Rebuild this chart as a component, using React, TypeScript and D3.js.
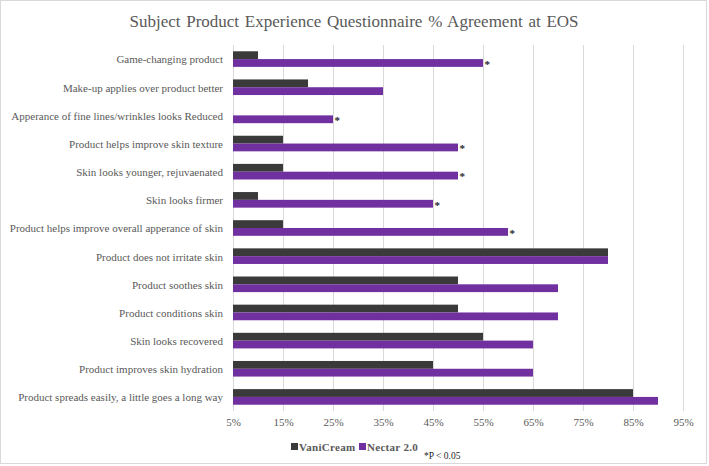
import { useEffect, useRef } from 'react';
import * as d3 from 'd3';

const categories = [
  'Game-changing product',
  'Make-up applies over product better ',
  'Apperance of fine lines/wrinkles looks Reduced',
  'Product helps improve skin texture',
  'Skin looks younger, rejuvaenated ',
  'Skin looks firmer',
  'Product helps improve overall apperance of skin',
  'Product does not irritate skin ',
  'Product soothes skin ',
  'Product conditions skin ',
  'Skin looks recovered',
  'Product improves skin hydration ',
  'Product spreads easily, a little goes a long way',
];

const vaniCream = [10, 20, 5, 15, 15, 10, 15, 80, 50, 50, 55, 45, 85];
const nectar = [55, 35, 25, 50, 50, 45, 60, 80, 70, 70, 65, 65, 90];
// categories where Nectar 2.0 differs significantly
const significant = [true, false, true, true, true, true, true, false, false, false, false, false, false];

const tickValues = [5, 15, 25, 35, 45, 55, 65, 75, 85, 95];

const W = 709;
const H = 466;

export default function App() {
  const svgRef = useRef<SVGSVGElement>(null);

  useEffect(() => {
    if (!svgRef.current) return;
    const svg = d3.select(svgRef.current);
    svg.selectAll('*').remove();

    const font = '"Liberation Serif", "Times New Roman", serif';
    const textColor = '#595959';
    const colors = { vani: '#3a3a3a', nectar: '#7030a0' };

    // chart frame
    svg.append('rect')
      .attr('x', 0.5).attr('y', 0.5)
      .attr('width', W - 3).attr('height', H - 3)
      .attr('fill', '#fff')
      .attr('stroke', '#d9d9d9');

    svg.append('text')
      .attr('x', 354)
      .attr('y', 27)
      .attr('text-anchor', 'middle')
      .style('font-family', font)
      .style('font-size', '17px')
      .style('word-spacing', '1.5px')
      .style('fill', textColor)
      .text('Subject Product Experience Questionnaire % Agreement at EOS');

    const x = d3.scaleLinear().domain([5, 95]).range([233, 683]);
    const y = d3.scaleBand<string>().domain(categories).range([45, 411]);
    const barH = 7.8;

    // vertical gridlines
    svg.append('g')
      .attr('transform', `translate(0,${y.range()[1]})`)
      .call(d3.axisBottom(x).tickValues(tickValues).tickSize(-(y.range()[1] - y.range()[0])).tickFormat(() => ''))
      .call(g => g.select('.domain').remove())
      .selectAll('line')
      .attr('stroke', '#d9d9d9');

    // tick labels
    const xAxis = svg.append('g')
      .attr('transform', `translate(0,${y.range()[1]})`)
      .call(d3.axisBottom(x).tickValues(tickValues).tickSize(0).tickPadding(7).tickFormat(d => `${d}%`));
    xAxis.select('.domain').remove();
    xAxis.selectAll('text')
      .style('font-family', font)
      .style('font-size', '11px')
      .style('fill', textColor);

    // category labels
    const yAxis = svg.append('g')
      .attr('transform', 'translate(233,0)')
      .call(d3.axisLeft(y).tickSize(0).tickPadding(10));
    yAxis.select('.domain').remove();
    yAxis.selectAll('text')
      .attr('dy', '0.4em')
      .style('font-family', font)
      .style('font-size', '11px')
      .style('fill', textColor);

    const rows = categories.map((c, i) => ({ c, v: vaniCream[i], n: nectar[i], sig: significant[i] }));
    const mid = (c: string) => (y(c) as number) + y.bandwidth() / 2;

    svg.append('g').selectAll('rect')
      .data(rows)
      .join('rect')
      .attr('x', x(5))
      .attr('y', d => mid(d.c) - barH)
      .attr('width', d => x(d.v) - x(5))
      .attr('height', barH)
      .attr('fill', colors.vani);

    svg.append('g').selectAll('rect')
      .data(rows)
      .join('rect')
      .attr('x', x(5))
      .attr('y', d => mid(d.c))
      .attr('width', d => x(d.n) - x(5))
      .attr('height', barH)
      .attr('fill', colors.nectar);

    svg.append('g').selectAll('text')
      .data(rows.filter(d => d.sig))
      .join('text')
      .attr('x', d => x(d.n) + 1.5)
      .attr('y', d => mid(d.c) + barH + 1)
      .style('font-family', font)
      .style('font-size', '11px')
      .style('font-weight', 'bold')
      .style('fill', '#262626')
      .text('*');

    // legend
    const legend = [
      { label: 'VaniCream', color: colors.vani, x: 291 },
      { label: 'Nectar 2.0', color: colors.nectar, x: 359 },
    ];
    const lg = svg.append('g');
    legend.forEach(l => {
      lg.append('rect')
        .attr('x', l.x).attr('y', 443)
        .attr('width', 7).attr('height', 7)
        .attr('fill', l.color);
      lg.append('text')
        .attr('x', l.x + 8).attr('y', 450.5)
        .style('font-family', font)
        .style('font-size', '11px')
        .style('font-weight', 'bold')
        .style('letter-spacing', '0.3px')
        .style('fill', textColor)
        .text(l.label);
    });

    svg.append('text')
      .attr('x', 424)
      .attr('y', 459)
      .style('font-family', font)
      .style('font-size', '9.5px')
      .style('fill', '#262626')
      .text('*P < 0.05');
  }, []);

  return (
    <svg
      ref={svgRef}
      width={W}
      height={H}
      style={{ position: 'fixed', left: 0, top: 0, background: '#fff' }}
    />
  );
}
